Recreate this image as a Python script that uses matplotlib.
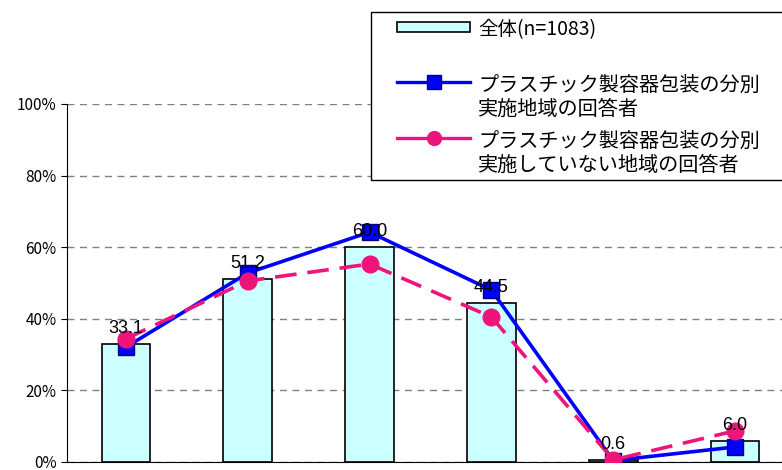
import numpy as np
from matplotlib import pyplot as plt
from matplotlib.patches import Rectangle
from matplotlib.lines import Line2D

plt.rcParams['font.family'] = ['Noto Sans CJK JP', 'DejaVu Sans']

# データ
categories = ['A', 'B', 'C', 'D', 'E', 'F']
total = [33.1, 51.2, 60.0, 44.5, 0.6, 6.0]
implemented = [32.1, 52.8, 64.2, 48.0, 0.4, 4.2]
not_implemented = [34.4, 50.6, 55.3, 40.5, 0.6, 8.7]
yticks = [0, 20, 40, 60, 80, 100]

label_total = '全体(n=1083)'
label_impl = ['プラスチック製容器包装の分別', '実施地域の回答者']
label_not = ['プラスチック製容器包装の分別', '実施していない地域の回答者']

W, H = 782.0, 470.0
BLUE = '#0000FF'
PINK = '#F0147A'
CYAN = '#CCFFFF'


def px(x, y):
    # ピクセル座標(左上原点) -> figure座標
    return x / W, 1 - y / H


def main():
    fig = plt.figure(figsize=(7.82, 4.70), dpi=100)
    ax = fig.add_axes([67 / W, 8 / H, 729 / W, 358 / H])
    x = np.arange(len(categories))

    ax.bar(x, total, width=0.4, color=CYAN, edgecolor='black', linewidth=1.2, zorder=2)
    ax.plot(x, implemented, color=BLUE, lw=2.6, marker='s', ms=12,
            mfc=BLUE, mec='#000080', zorder=3)
    ax.plot(x, not_implemented, color=PINK, lw=2.6, ls=(0, (6, 3)), marker='o', ms=12,
            mfc=PINK, mec=PINK, zorder=4)

    # 数値ラベル
    for xi, v in zip(x, total):
        ax.text(xi, v + 3.0, '%.1f' % v, ha='center', va='baseline', fontsize=13,
                family='Liberation Sans', zorder=5)

    ax.set_xlim(-0.484, 5.5)
    ax.set_ylim(0, 100)
    ax.set_yticks(yticks)
    ax.set_yticklabels(['%d%%' % t for t in yticks], fontsize=11)
    ax.set_xticks([])
    ax.yaxis.grid(True, ls=(0, (5, 4)), color='#808080', lw=1)
    ax.set_axisbelow(True)
    for s in ['top', 'right']:
        ax.spines[s].set_visible(False)
    ax.tick_params(axis='y', length=4)

    # 凡例(手描き)
    x0, y0 = px(371, 180)
    x1, y1 = px(795, 12)
    fig.patches.append(Rectangle((x0, y0), x1 - x0, y1 - y0, transform=fig.transFigure,
                                 facecolor='white', edgecolor='black', lw=1, zorder=10))
    hx0, hy = px(397, 27)
    hx1, _ = px(470, 27)
    fig.patches.append(Rectangle((hx0, hy - 5 / H), hx1 - hx0, 10 / H, transform=fig.transFigure,
                                 facecolor=CYAN, edgecolor='black', lw=1.2, zorder=11))
    fig.text(478 / W, 1 - 30 / H, label_total, fontsize=14, va='center', ha='left', zorder=12)

    for yc, color, marker, lines in [(82, BLUE, 's', label_impl), (138, PINK, 'o', label_not)]:
        _, ly = px(0, yc)
        mec = '#000080' if marker == 's' else color
        fig.lines.append(Line2D([hx0, hx1], [ly, ly], transform=fig.transFigure, color=color,
                                lw=2.4, zorder=11))
        fig.lines.append(Line2D([(hx0 + hx1) / 2], [ly], transform=fig.transFigure, color=color,
                                marker=marker, ms=10, mfc=color, mec=mec, zorder=12))
        for i, t in enumerate(lines):
            fig.text(478 / W, 1 - (yc + 3 + 24 * i) / H, t, fontsize=14.5, va='center',
                     ha='left', zorder=12)

    fig.savefig('out.png', dpi=100)


if __name__ == "__main__":
    main()
